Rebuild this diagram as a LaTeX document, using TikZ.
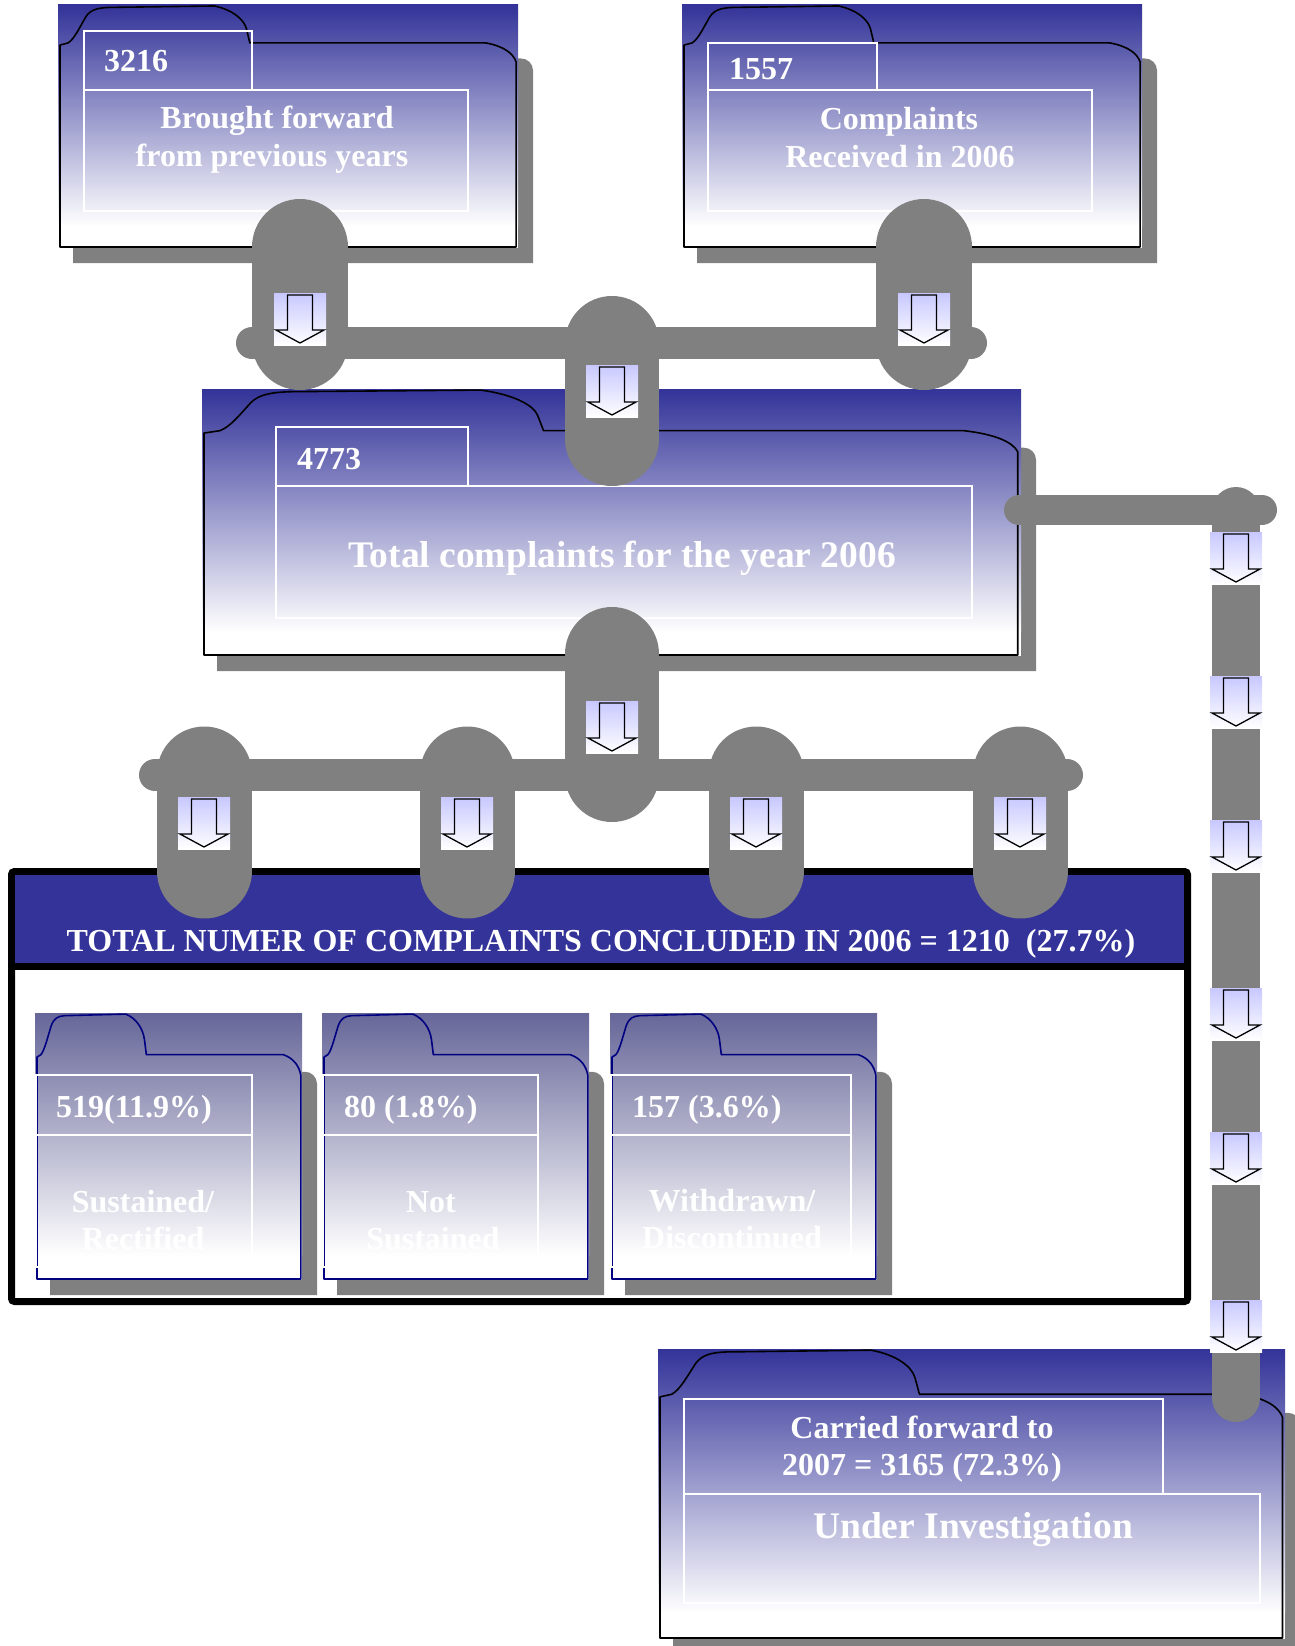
\documentclass[tikz,border=0pt]{standalone}
\usepackage{fontspec}
\setmainfont{Liberation Serif}

\definecolor{folderblue}{HTML}{333399}
\definecolor{subblue}{HTML}{666699}
\definecolor{subline}{HTML}{000080}
\definecolor{pipegray}{HTML}{808080}
\definecolor{arrowlav}{HTML}{C8C8FF}

\tikzset{
  pipe/.style={draw=pipegray, line width=#1, line cap=round},
  innerbox/.style={draw=white, line width=1.5pt},
  numlbl/.style={text=white, inner sep=0pt, anchor=base west, font=\bfseries\fontsize{32}{32}\selectfont},
  txtlbl/.style={text=white, inner sep=0pt, anchor=base, font=\bfseries\fontsize{32}{32}\selectfont},
  biglbl/.style={text=white, inner sep=0pt, anchor=base, font=\bfseries\fontsize{37.5}{38}\selectfont},
}

% folder: x, y (top left), width, height, top colour, outline colour
\newcommand{\folderbox}[6]{%
  \fill[pipegray] (#1+15,#2+#4+15) -- (#1+#3+15,#2+#4+15) [rounded corners=12pt] -- (#1+#3+15,#2+0.22*#4) [sharp corners] -- (#1+15,#2+0.22*#4) -- cycle;
  \fill[white] (#1,#2+0.9*#4) rectangle (#1+#3,#2+#4);
  \shade[top color=#5, bottom color=white] (#1,#2) rectangle (#1+#3,#2+0.91*#4);
  \draw[#6, line width=1.6pt, line join=round] (#1+2,#2+#4-1) -- (#1+2,#2+0.165*#4) -- (#1+0.022*#3,#2+0.156*#4)
    .. controls (#1+0.035*#3,#2+0.14*#4) and (#1+0.045*#3,#2+0.1*#4) .. (#1+0.06*#3,#2+0.05*#4)
    .. controls (#1+0.07*#3,#2+0.02*#4) and (#1+0.085*#3,#2+0.012*#4) .. (#1+0.11*#3,#2+0.01*#4)
    -- (#1+0.34*#3,#2+0.004*#4)
    .. controls (#1+0.38*#3,#2+0.02*#4) and (#1+0.405*#3,#2+0.06*#4) .. (#1+0.41*#3,#2+0.1*#4)
    -- (#1+0.417*#3,#2+0.156*#4) -- (#1+0.93*#3,#2+0.156*#4)
    .. controls (#1+0.97*#3,#2+0.17*#4) and (#1+0.99*#3,#2+0.2*#4) .. (#1+0.996*#3,#2+0.235*#4)
    -- (#1+0.996*#3,#2+#4-1) -- cycle;
}

% arrow tile centred at x, y
\newcommand{\arrowtile}[2]{%
  \shade[top color=arrowlav, bottom color=white] (#1-26,#2-26) rectangle (#1+26,#2+26);
  \draw[line width=1.3pt, line join=miter] (#1-12.5,#2-24) -- (#1+12.5,#2-24) -- (#1+12.5,#2+11) -- (#1+24,#2+11)
    -- (#1,#2+24) -- (#1-24,#2+11) -- (#1-12.5,#2+11) -- cycle;
}

\begin{document}
\begin{tikzpicture}[x=1pt, y=-1pt]
\useasboundingbox (0,0) rectangle (1294,1646);

% incoming folders
\folderbox{58}{5}{460}{243}{folderblue}{black}
\folderbox{682}{5}{460}{243}{folderblue}{black}
\draw[innerbox] (84,31) rectangle (252,90) (84,90) rectangle (468,211);
\draw[innerbox] (708,43) rectangle (877,90) (708,90) rectangle (1092,211);
\node[numlbl] (n3216) at (104,71) {3216};
\node[txtlbl] (bf1) at (277,128) {Brought forward};
\node[txtlbl] (bf2) at (272,166) {from previous years};
\node[numlbl] (n1557) at (729,80) {1557};
\node[txtlbl] (cr1) at (899,129) {Complaints};
\node[txtlbl] (cr2) at (900,167) {Received in 2006};

% total folder
\folderbox{202}{389}{819}{267}{folderblue}{black}
\draw[innerbox] (276,427) rectangle (468,486) (276,486) rectangle (972,618);
\node[numlbl] (n4773) at (297,469) {4773};
\node[biglbl] (tot) at (622,567) {Total complaints for the year 2006};

% concluded panel
\draw[line width=7pt, rounded corners=3pt, fill=white] (11.5,871.5) rectangle (1187.5,1301.5);
\fill[folderblue] (15,875) rectangle (1184,963);
\draw[line width=7pt] (11.5,966.5) -- (1187.5,966.5);
\node[txtlbl] (hdr) at (601,951)
  {TOTAL NUMER OF COMPLAINTS CONCLUDED IN 2006 = 1210\ \ (27.7\%)};

\foreach \x/\bw in {35/217, 322/216, 610/241} {
  \folderbox{\x}{1013}{267}{267}{subblue}{subline}
  \draw[innerbox] (\x+1,1075) rectangle (\x+\bw,1135) (\x+1,1135) rectangle (\x+\bw,1267);
}
\node[numlbl] (s1) at (56,1117) {519(11.9\%)};
\node[numlbl] (s2) at (344,1117) {80 (1.8\%)};
\node[numlbl] (s3) at (632,1117) {157 (3.6\%)};
\node[txtlbl] (sr1) at (143,1212) {Sustained/};
\node[txtlbl] (sr2) at (143,1249) {Rectified};
\node[txtlbl] (ns1) at (431,1212) {Not};
\node[txtlbl] (ns2) at (433,1249) {Sustained};
\node[txtlbl] (wd1) at (732,1211) {Withdrawn/};
\node[txtlbl] (wd2) at (732,1248) {Discontinued};

% carried forward folder
\folderbox{658}{1349}{627}{290}{folderblue}{black}
\draw[innerbox] (684,1399) rectangle (1163,1494) (684,1494) rectangle (1260,1603);
\node[txtlbl] (cf1) at (922,1438) {Carried forward to};
\node[txtlbl] (cf2) at (922,1475) {2007 = 3165 (72.3\%)};
\node[biglbl] (ui) at (973,1538) {Under Investigation};

% pipes
\coordinate (bf top) at (300,247);  \coordinate (bf bot) at (300,342);
\coordinate (cr top) at (924,247);  \coordinate (cr bot) at (924,342);
\coordinate (bar1 l) at (252,343);  \coordinate (bar1 r) at (971,343);
\coordinate (tot in) at (612,343);  \coordinate (tot in2) at (612,439);
\coordinate (tot out) at (612,654); \coordinate (tot out2) at (612,775);
\coordinate (bar2 l) at (155,775);  \coordinate (bar2 r) at (1067,775);
\coordinate (cf l) at (1019,510);   \coordinate (cf r) at (1262,510);
\coordinate (cf top) at (1236,511); \coordinate (cf bot) at (1236,1398);

\draw[pipe=96pt] (bf top) -- (bf bot);
\draw[pipe=96pt] (cr top) -- (cr bot);
\draw[pipe=32pt] (bar1 l) -- (bar1 r);
\draw[pipe=94pt] (tot in) -- (tot in2);
\draw[pipe=94pt] (tot out) -- (tot out2);
\draw[pipe=32pt] (bar2 l) -- (bar2 r);
\foreach \x in {204, 467, 756, 1020}
  \draw[pipe=95pt] (\x,774) -- (\x,871);
\draw[pipe=30pt] (cf l) -- (cf r);
\draw[pipe=48pt] (cf top) -- (cf bot);

% arrows
\arrowtile{300}{319}
\arrowtile{924}{319}
\arrowtile{612}{391}
\arrowtile{612}{727}
\foreach \x in {204, 467, 756, 1020} {
  \arrowtile{\x}{823}
}
\foreach \y in {558, 702, 846, 1014, 1158, 1326} {
  \arrowtile{1236}{\y}
}
\end{tikzpicture}
\end{document}
